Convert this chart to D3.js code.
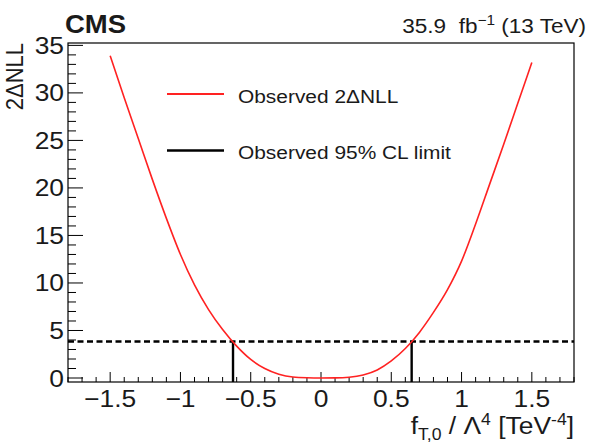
<!DOCTYPE html>
<html>
<head>
<meta charset="utf-8">
<script src="https://cdn.jsdelivr.net/npm/d3@7"></script>
<style>
  body { margin: 0; background: #fff; }
  text { font-family: "Liberation Sans", Arial, sans-serif; fill: #1a1a1a; }
</style>
</head>
<body>
<svg width="594" height="446"></svg>
<script>
// scan values
const fValues = [-1.5, -1.4, -1.3, -1.2, -1.1, -1.0, -0.9, -0.8, -0.7, -0.6, -0.5, -0.4, -0.3, -0.2, -0.1,
                 0.0, 0.1, 0.2, 0.3, 0.4, 0.5, 0.6, 0.7, 0.8, 0.9, 1.0, 1.1, 1.2, 1.3, 1.4, 1.5];
const nllValues = [33.9, 29.5, 25.2, 20.9, 16.8, 13.0, 9.8, 7.2, 5.1, 3.35, 1.95, 1.0, 0.4, 0.1, 0.02,
                   0.0, 0.01, 0.08, 0.32, 0.85, 1.8, 3.1, 4.8, 6.9, 9.3, 12.3, 16.2, 20.4, 24.6, 28.9, 33.2];
const limitValues = [-0.626, 0.645];
const threshold = 3.84;
const xTicks = [-1.5, -1, -0.5, 0, 0.5, 1, 1.5];
const xTickLabels = ["\u22121.5", "\u22121", "\u22120.5", "0", "0.5", "1", "1.5"];
const yTicks = [0, 5, 10, 15, 20, 25, 30, 35];
const legendLabels = ["Observed 2\u0394NLL", "Observed 95% CL limit"];

const svg = d3.select("svg");
const padL = 68, padR = 574, padT = 43, padB = 382;
const sx = 1.1; // glyphs in the reference are a bit wider than normal

const x = d3.scaleLinear().domain([-1.8, 1.8]).range([padL, padR]);
const y = d3.scaleLinear().domain([-0.42, 35.25]).range([padB, padT]);

function label(xp, yp, str, size, anchor, weight) {
    return svg.append("g")
        .attr("transform", `translate(${xp},${yp}) scale(${sx},1)`)
        .append("text")
        .attr("text-anchor", anchor || "start")
        .style("font-size", size + "px")
        .style("font-weight", weight || "normal")
        .text(str);
}

// ticks (inside the frame, ROOT style)
const xMinor = d3.range(-18, 19).map(i => i / 10);
svg.append("g").selectAll("line")
    .data(xMinor)
    .enter().append("line")
    .attr("x1", d => x(d)).attr("x2", d => x(d))
    .attr("y1", padB)
    .attr("y2", d => xTicks.some(t => Math.abs(t - d) < 1e-6) ? padB - 10 : padB - 5)
    .style("stroke", "#000").style("stroke-width", 1);

const yMinor = d3.range(0, 36);
svg.append("g").selectAll("line")
    .data(yMinor)
    .enter().append("line")
    .attr("x1", padL)
    .attr("x2", d => d % 5 === 0 ? padL + 15 : padL + 8)
    .attr("y1", d => y(d)).attr("y2", d => y(d))
    .style("stroke", "#000").style("stroke-width", 1);

xTicks.forEach((t, i) => label(x(t), 407, xTickLabels[i], 24, "middle"));
yTicks.forEach(t => label(64, y(t) + 8.5, String(t), 24, "end"));

// frame
svg.append("rect")
    .attr("x", padL).attr("y", padT)
    .attr("width", padR - padL).attr("height", padB - padT)
    .style("fill", "none").style("stroke", "#000").style("stroke-width", 1.2);

// 95% CL threshold
svg.append("line")
    .attr("x1", padL).attr("x2", padR)
    .attr("y1", y(threshold)).attr("y2", y(threshold))
    .style("stroke", "#000").style("stroke-width", 2.4)
    .style("stroke-dasharray", "6,3.5");

svg.append("g").selectAll("line")
    .data(limitValues)
    .enter().append("line")
    .attr("x1", d => x(d)).attr("x2", d => x(d))
    .attr("y1", y(threshold)).attr("y2", padB)
    .style("stroke", "#000").style("stroke-width", 2.4);

// likelihood scan
const line = d3.line()
    .x((d, i) => x(fValues[i]))
    .y(d => y(d))
    .curve(d3.curveMonotoneX);

svg.append("path")
    .datum(nllValues)
    .attr("d", line)
    .style("fill", "none")
    .style("stroke", "#f22")
    .style("stroke-width", 1.6);

// legend
const legColors = ["#f22", "#000"];
const legY = [94, 150.5];
legendLabels.forEach((t, i) => {
    svg.append("line")
        .attr("x1", 167).attr("x2", 224)
        .attr("y1", legY[i]).attr("y2", legY[i])
        .style("stroke", legColors[i]).style("stroke-width", i === 0 ? 1.8 : 2.4);
    label(238, legY[i] + 8.5, t, 19);
});

// titles
label(padL - 3, 33, "CMS", 25, "start", "bold");

const lumi = svg.append("g")
    .attr("transform", `translate(586,33) scale(${sx},1)`)
    .append("text")
    .attr("text-anchor", "end")
    .style("font-size", "20.5px");
lumi.append("tspan").text("35.9\u00a0\u00a0fb");
lumi.append("tspan").attr("dy", -8).style("font-size", "14px").text("\u22121");
lumi.append("tspan").attr("dy", 8).text("\u00a0(13 TeV)");

const xt = svg.append("g")
    .attr("transform", `translate(574,434) scale(${sx},1)`)
    .append("text")
    .attr("text-anchor", "end")
    .style("font-size", "24px");
xt.append("tspan").text("f");
xt.append("tspan").attr("dy", 6).style("font-size", "16px").text("T,0");
xt.append("tspan").attr("dy", -6).text("\u00a0/\u00a0\u039b");
xt.append("tspan").attr("dy", -9).style("font-size", "16px").text("4");
xt.append("tspan").attr("dy", 9).text("\u00a0[TeV");
xt.append("tspan").attr("dy", -9).style("font-size", "16px").text("-4");
xt.append("tspan").attr("dy", 9).text("]");

svg.append("g")
    .attr("transform", `translate(23,${padT}) scale(${sx},1) rotate(-90)`)
    .append("text")
    .attr("text-anchor", "end")
    .style("font-size", "22px")
    .text("2\u0394NLL");
</script>
</body>
</html>
